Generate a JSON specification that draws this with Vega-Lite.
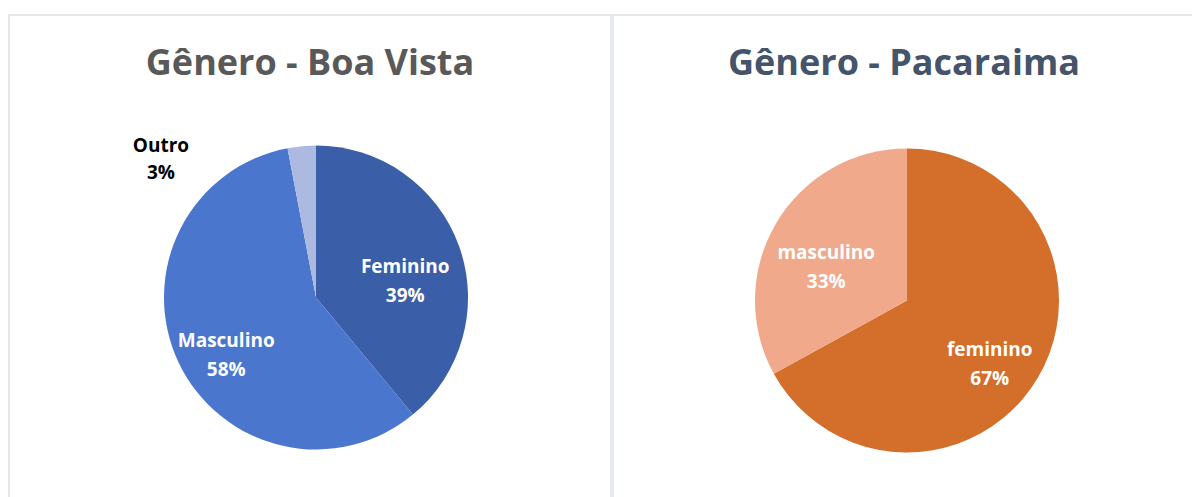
{
  "$schema": "https://vega.github.io/schema/vega-lite/v6.json",
  "padding": {"left": 8, "top": 14, "right": 0, "bottom": 0},
  "spacing": 0,
  "background": "white",
  "config": {
    "view": {"stroke": "#dde1e6", "strokeWidth": 1.5},
    "font": "Open Sans",
    "text": {"lineBreak": "\n"}
  },
  "resolve": {"scale": {"color": "independent", "theta": "independent"}},
  "hconcat": [
    {
      "width": 602,
      "height": 483,
      "view": {"stroke": "#dde1e6", "strokeWidth": 1.5},
      "title": {"text": "Gênero - Boa Vista", "color": "#595959", "fontSize": 36, "fontWeight": "bold", "font": "Open Sans", "offset": -68, "anchor": "middle"},
      "data": {"values": [
        {"genero": "Feminino", "pct": 39, "ordem": 1},
        {"genero": "Masculino", "pct": 58, "ordem": 2},
        {"genero": "Outro", "pct": 3, "ordem": 3}
      ]},
      "transform": [{"calculate": "datum.genero + '\\n' + datum.pct + '%'", "as": "label"}],
      "encoding": {
        "theta": {"field": "pct", "type": "quantitative", "stack": true},
        "order": {"field": "ordem", "type": "quantitative"}
      },
      "layer": [
        {
          "mark": {"type": "arc", "outerRadius": 152, "xOffset": 6, "yOffset": 41},
          "encoding": {
            "color": {"field": "genero", "type": "nominal", "legend": null,
              "scale": {"domain": ["Feminino", "Masculino", "Outro"], "range": ["#3a5ea7", "#4a77cd", "#acb9e1"]}}
          }
        },
        {
          "mark": {"type": "text", "radius": 97, "xOffset": 4, "yOffset": 43, "color": "white", "fontWeight": "bold", "fontSize": 19, "lineHeight": 29},
          "encoding": {"text": {"condition": {"test": "datum.genero != 'Outro'", "field": "label"}, "value": ""}}
        },
        {
          "mark": {"type": "text", "radius": 160, "xOffset": 6, "yOffset": 41, "dx": -140, "dy": 8, "color": "black", "fontWeight": "bold", "fontSize": 19, "lineHeight": 27},
          "encoding": {"text": {"condition": {"test": "datum.genero == 'Outro'", "field": "label"}, "value": ""}}
        }
      ]
    },
    {
      "width": 582,
      "height": 483,
      "view": {"stroke": "#dde1e6", "strokeWidth": 1.5},
      "title": {"text": "Gênero - Pacaraima", "color": "#44546a", "fontSize": 36, "fontWeight": "bold", "font": "Open Sans", "offset": -68, "anchor": "middle"},
      "data": {"values": [
        {"genero": "feminino", "pct": 67, "ordem": 1},
        {"genero": "masculino", "pct": 33, "ordem": 2}
      ]},
      "transform": [{"calculate": "datum.genero + '\\n' + datum.pct + '%'", "as": "label"}],
      "encoding": {
        "theta": {"field": "pct", "type": "quantitative", "stack": true},
        "order": {"field": "ordem", "type": "quantitative"}
      },
      "layer": [
        {
          "mark": {"type": "arc", "outerRadius": 152, "xOffset": 3, "yOffset": 44},
          "encoding": {
            "color": {"field": "genero", "type": "nominal", "legend": null,
              "scale": {"domain": ["feminino", "masculino"], "range": ["#d36e2b", "#f0a98b"]}}
          }
        },
        {
          "mark": {"type": "text", "radius": 95, "xOffset": 4, "yOffset": 45, "color": "white", "fontWeight": "bold", "fontSize": 19, "lineHeight": 29},
          "encoding": {"text": {"field": "label"}}
        }
      ]
    }
  ]
}
